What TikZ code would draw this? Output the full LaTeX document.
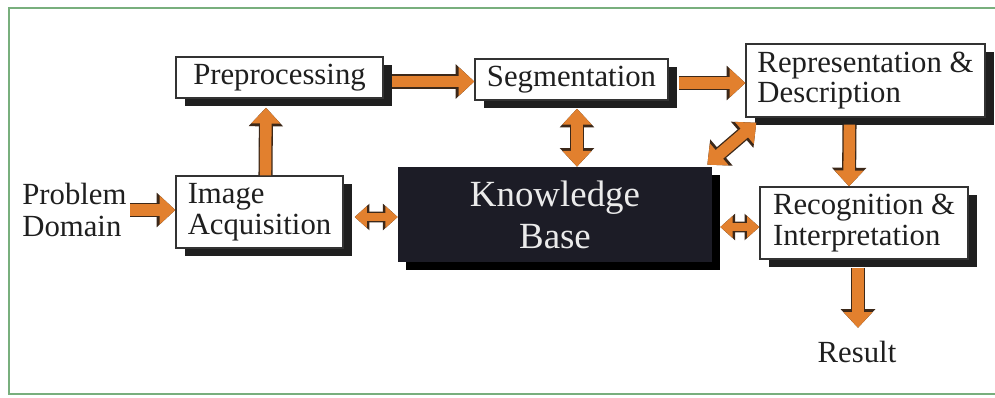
\documentclass[tikz,border=0pt]{standalone}
\usepackage{fontspec}
\setmainfont{Liberation Serif}
\usetikzlibrary{calc,shadows,arrows.meta}
\definecolor{flowfill}{RGB}{226,128,46}
\definecolor{flowedge}{RGB}{60,40,25}
\definecolor{framegreen}{RGB}{120,175,125}
\definecolor{kbfill}{RGB}{28,28,38}

\begin{document}
\begin{tikzpicture}[
    x=0.02cm, y=-0.02cm,
    % Styling for Blocks
    stage/.style={rectangle, draw=black!80, line width=0.8pt, fill=white, align=left, inner sep=2pt,
        text=black!88, font=\fontsize{17.5}{17.5}\selectfont,
        drop shadow={shadow xshift=0.18cm, shadow yshift=-0.16cm, fill=black!88, opacity=1}},
    kb/.style={rectangle, fill=kbfill, text=white!92!black, align=center, font=\fontsize{21}{24}\selectfont,
        drop shadow={shadow xshift=0.16cm, shadow yshift=-0.16cm, fill=black, opacity=1}},
    txt/.style={inner sep=0pt, align=left, text=black!88, font=\fontsize{17.5}{18}\selectfont},
    % Block arrows
    flow/.style={draw=flowfill, line width=6.5pt, -{Triangle[length=9pt,width=16pt]},
        preaction={draw=flowedge, line width=8pt, -{Triangle[length=10.6pt,width=19pt]}}},
    flowboth/.style={draw=flowfill, line width=6.5pt, {Triangle[length=9pt,width=16pt]}-{Triangle[length=9pt,width=16pt]},
        preaction={draw=flowedge, line width=8pt, {Triangle[length=10.6pt,width=19pt]}-{Triangle[length=10.6pt,width=19pt]}}},
    flowsmall/.style={draw=flowfill, line width=4.5pt, {Triangle[length=7pt,width=12pt]}-{Triangle[length=7pt,width=12pt]},
        preaction={draw=flowedge, line width=6pt, {Triangle[length=8.4pt,width=14.6pt]}-{Triangle[length=8.4pt,width=14.6pt]}}}
]

    % Frame
    \useasboundingbox (0,0) rectangle (995,397);
    \draw[framegreen, line width=1.2pt] (9,8) rectangle (1010,394);

    % Processing Stages
    \node[stage, minimum width=4.14cm, minimum height=0.82cm] (pre) at (279.5,77.5) {Preprocessing};
    \node[stage, minimum width=3.86cm, minimum height=0.82cm] (seg) at (571.5,79.5) {Segmentation};
    \node[stage, minimum width=4.78cm, minimum height=1.46cm] (rep) at (865.5,80.5) {Representation \&\\Description};
    \node[stage, minimum width=3.34cm, minimum height=1.44cm] (acq) at (259.5,212) {Image\\Acquisition};
    \node[stage, minimum width=4.16cm, minimum height=1.44cm] (rec) at (864,223) {Recognition \&\\Interpretation};

    % Knowledge Base
    \node[kb, minimum width=6.28cm, minimum height=1.9cm] (base) at (555,214.5) {Knowledge\\Base};

    % Input and Output
    \node[txt, anchor=west] (prob) at (22,210) {Problem\\Domain};
    \node[txt] (res) at (857,352) {Result};

    % Main Flow
    \draw[flow, shorten <=2pt] (prob.east) -- (prob.east -| acq.west);
    \draw[flow] ($(acq.north)+(6,0)$) -- ($(pre.south)+(-13.5,9)$);
    \draw[flow] ($(pre.east)+(8,4)$) -- ($(pre.east -| seg.west)+(0,4)$);
    \draw[flow] ($(seg.east)+(10,3.5)$) -- ($(seg.east -| rep.west)+(0,3.5)$);
    \draw[flow] ($(rep.south)+(-16,7)$) -- ($(rec.north)+(-15,0)$);
    \draw[flow] ($(rec.south)+(-6,8)$) -- ($(res.north)+(1,-13)$);

    % Knowledge Base Links
    \draw[flowboth] ($(seg.south)+(5.5,8)$) -- ($(seg.south |- base.north)+(5.5,0)$);
    \draw[flowboth] ($(rep.south west)+(11,5)$) -- ($(base.north east)+(-5,-2)$);
    \draw[flowsmall] ($(acq.east)+(11,5)$) -- ($(base.west)+(0,2.5)$);
    \draw[flowsmall] ($(base.east)+(8,12.5)$) -- ($(rec.west)+(0,4)$);

\end{tikzpicture}
\end{document}
